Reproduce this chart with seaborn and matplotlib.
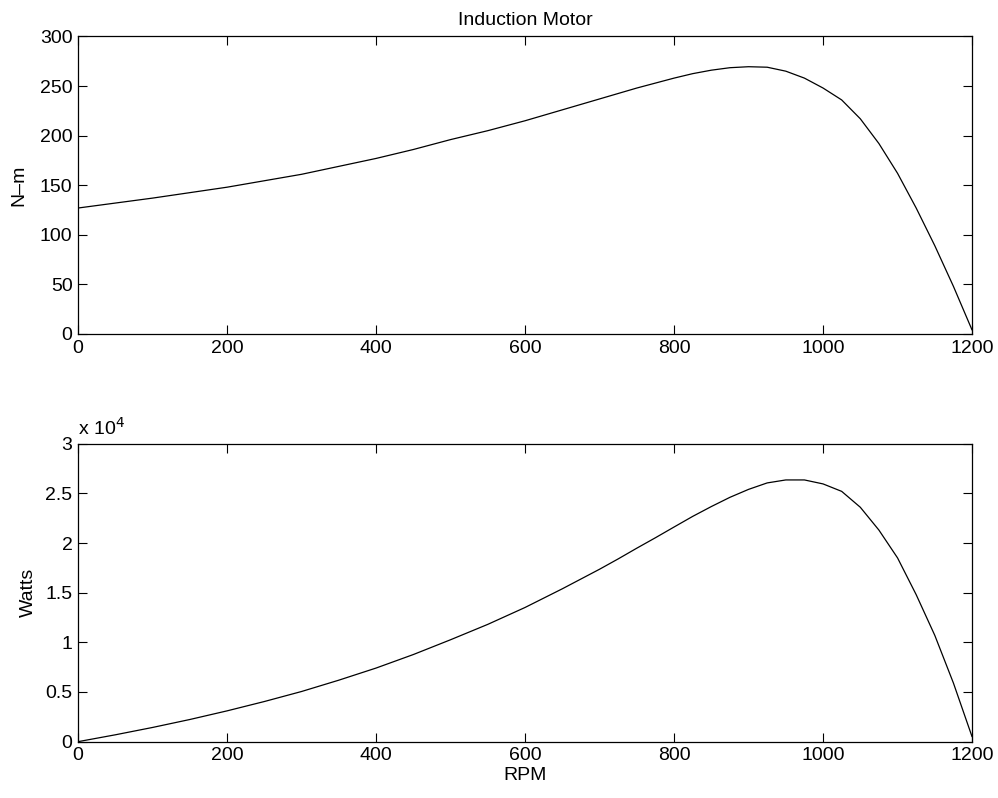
import matplotlib
matplotlib.use("Agg")
import matplotlib.pyplot as plt
import seaborn as sns
import pandas as pd
from matplotlib.ticker import FuncFormatter

rpm = [0, 50, 100, 150, 200, 250, 300, 350, 400, 450, 500, 550, 600, 650, 700,
       725, 750, 775, 800, 825, 850, 875, 900, 925, 950, 975, 1000, 1025, 1050,
       1075, 1100, 1125, 1150, 1175, 1200]
torque = [127, 132, 137, 142.5, 148, 154.5, 161, 169, 177, 186, 196, 205, 215, 226, 237,
          242.5, 248, 253, 258, 262.5, 266, 268.5, 269.5, 269, 265, 258, 248, 236, 217,
          192, 162, 127, 89, 48, 4]
power = [0, 690, 1430, 2230, 3100, 4040, 5050, 6190, 7410, 8770, 10260, 11810, 13510, 15390, 17360,
         18400, 19480, 20530, 21610, 22680, 23670, 24600, 25400, 26050, 26350, 26350, 25950, 25200, 23600,
         21300, 18500, 14800, 10700, 5900, 500]

x_ticks = [0, 200, 400, 600, 800, 1000, 1200]
torque_ticks = [0, 50, 100, 150, 200, 250, 300]
power_ticks = [0, 5000, 10000, 15000, 20000, 25000, 30000]

df = pd.DataFrame({"RPM": rpm, "Torque": torque, "Power": power})

sns.set_style("ticks")
plt.rcParams["font.family"] = ["Liberation Sans", "DejaVu Sans"]
plt.rcParams["font.size"] = 14
plt.rcParams["text.color"] = "black"
plt.rcParams["axes.labelcolor"] = "black"
plt.rcParams["xtick.color"] = "black"
plt.rcParams["ytick.color"] = "black"

fig = plt.figure(figsize=(9.98, 7.98), dpi=100)
ax1 = fig.add_axes([0.0782, 0.5815, 0.8958, 0.3728])
ax2 = fig.add_axes([0.0782, 0.0706, 0.8958, 0.3734])

sns.lineplot(data=df, x="RPM", y="Torque", ax=ax1, color="black", linewidth=0.9)
sns.lineplot(data=df, x="RPM", y="Power", ax=ax2, color="black", linewidth=0.9)

for ax in (ax1, ax2):
    ax.set_xlim(0, 1200)
    ax.set_xticks(x_ticks)
    ax.tick_params(direction="in", length=6.5, width=0.8, top=True, right=True,
                   labelsize=14, pad=4, colors="black")
    for s in ax.spines.values():
        s.set_visible(True)
        s.set_linewidth(0.9)
        s.set_color("black")

ax1.set_ylim(0, 300)
ax1.set_yticks(torque_ticks)
ax1.set_xlabel("")
ax1.set_ylabel("N–m", fontsize=14, labelpad=9, color="black")
ax1.set_title("Induction Motor", fontsize=14, pad=8, color="black")

ax2.set_ylim(0, 30000)
ax2.set_yticks(power_ticks)
ax2.yaxis.set_major_formatter(FuncFormatter(lambda v, p: f"{v/1e4:g}"))
ax2.set_xlabel("RPM", fontsize=14, labelpad=2, color="black")
ax2.set_ylabel("Watts", fontsize=14, labelpad=6, color="black")
ax2.text(0.0, 1.015, r"x 10$^{4}$", transform=ax2.transAxes, fontsize=14,
         ha="left", va="bottom", color="black")

fig.savefig("out.png", dpi=100, facecolor="white")
